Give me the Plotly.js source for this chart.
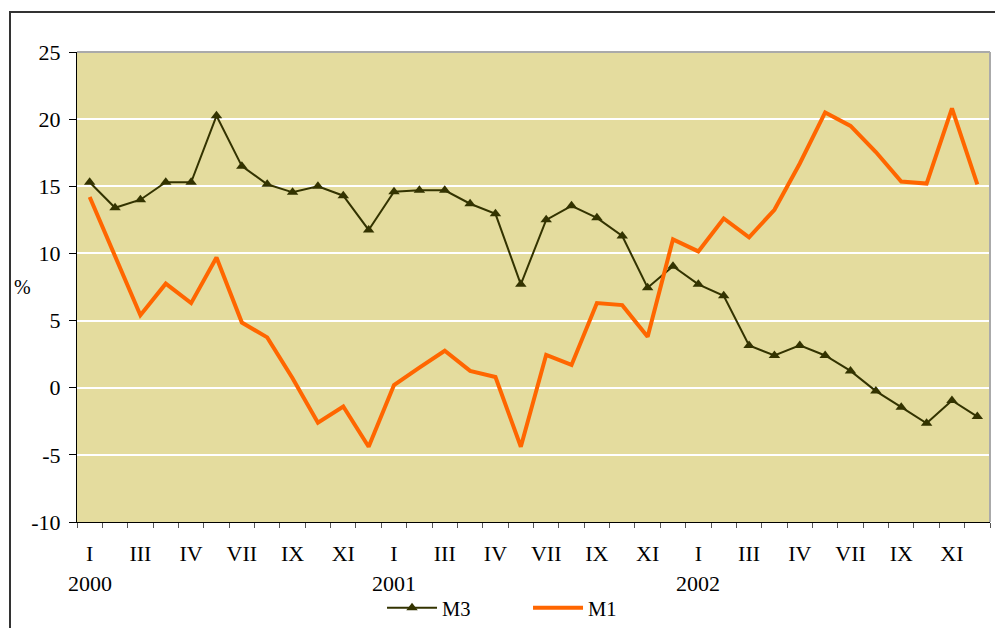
<!DOCTYPE html>
<html>
<head>
<meta charset="utf-8">
<script src="https://cdn.plot.ly/plotly-3.0.1.min.js"></script>
<style>
  body { margin: 0; background: #fff; }
  #chart { position: absolute; left: 0; top: 0; width: 995px; height: 628px; }
  #frame { position: absolute; left: 9px; top: 11px; width: 1000px; height: 700px;
           border-left: 2px solid #333; border-top: 2px solid #333; pointer-events: none; }
</style>
</head>
<body>
<div id="chart"></div>
<div id="frame"></div>
<script>
(function() {
  'use strict';

  // months, Jan 2000 .. Dec 2002
  var months = [];
  for (var i = 0; i < 36; i++) months.push(i);

  // tick labels as printed on the original (every second month)
  var tickPos = [0, 2, 4, 6, 8, 10, 12, 14, 16, 18, 20, 22, 24, 26, 28, 30, 32, 34];
  var tickText = ['I', 'III', 'IV', 'VII', 'IX', 'XI',
                  'I', 'III', 'IV', 'VII', 'IX', 'XI',
                  'I', 'III', 'IV', 'VII', 'IX', 'XI'];

  var yTickVals = [-10, -5, 0, 5, 10, 15, 20, 25];
  var yTickText = ['-10', '-5', '0', '5', '10', '15', '20', '25'];

  var years = ['2000', '2001', '2002'];
  var yearPos = [0, 12, 24];

  var m3 = [15.3, 13.4, 14.0, 15.3, 15.3, 20.25, 16.5, 15.15, 14.55, 15.0, 14.3, 11.75,
            14.6, 14.7, 14.7, 13.7, 12.95, 7.7, 12.5, 13.55, 12.65, 11.3, 7.45, 9.05,
            7.7, 6.85, 3.15, 2.4, 3.15, 2.4, 1.25, -0.25, -1.45, -2.65, -0.95, -2.15];

  var m1 = [14.2, 9.8, 5.4, 7.75, 6.3, 9.7, 4.85, 3.75, 0.7, -2.6, -1.4, -4.4,
            0.2, 1.5, 2.75, 1.25, 0.8, -4.4, 2.45, 1.7, 6.3, 6.15, 3.8, 11.05,
            10.15, 12.6, 11.2, 13.25, 16.7, 20.5, 19.5, 17.55, 15.35, 15.2, 20.8, 15.15];

  var serif = "'Liberation Serif', 'Times New Roman', serif";

  var data = [{
    type: 'scatter', mode: 'lines+markers', name: 'M3',
    x: months, y: m3,
    line: {color: '#333300', width: 2},
    marker: {symbol: 'triangle-up', size: 10, color: '#333300'}
  }, {
    type: 'scatter', mode: 'lines', name: 'M1',
    x: months, y: m1,
    line: {color: '#FF6600', width: 4}
  }];

  var annotations = years.map(function(y, k) {
    return {text: y, x: yearPos[k], xref: 'x', y: -0.13, yref: 'paper',
            showarrow: false, yanchor: 'middle', font: {family: serif, size: 22, color: '#000'}};
  });
  annotations.push({text: '%', x: -0.071, xref: 'paper', y: 0.5, yref: 'paper',
                    showarrow: false, font: {family: serif, size: 20, color: '#000'}});

  var layout = {
    width: 995, height: 628,
    margin: {l: 77, r: 5, t: 52, b: 106, autoexpand: false},
    paper_bgcolor: 'rgba(0,0,0,0)',
    plot_bgcolor: '#E4DC9E',
    font: {family: serif, color: '#000'},
    showlegend: true,
    legend: {orientation: 'h', x: 0.494, xanchor: 'center', y: -0.183, yanchor: 'middle',
             font: {family: serif, size: 20.5}, itemwidth: 50, entrywidth: 81,
             bgcolor: 'rgba(0,0,0,0)'},
    xaxis: {
      range: [-0.5, 35.5], tickmode: 'array', tickvals: tickPos, ticktext: tickText,
      ticks: '', showgrid: false, zeroline: false,
      showline: true, linecolor: '#000', linewidth: 1,
      tickfont: {family: serif, size: 22}, ticklabelstandoff: 12,
      minor: {ticks: 'outside', ticklen: 5, tickcolor: '#555', tick0: -0.5, dtick: 1, showgrid: false}
    },
    yaxis: {
      range: [-10, 25], tickmode: 'array', tickvals: yTickVals, ticktext: yTickText,
      ticks: 'outside', ticklen: 7, tickcolor: '#000', ticklabelstandoff: 4,
      showgrid: true, gridcolor: '#fff', gridwidth: 2, zeroline: false,
      showline: true, linecolor: '#000', linewidth: 1,
      tickfont: {family: serif, size: 22}
    },
    shapes: [
      {type: 'line', xref: 'paper', yref: 'paper', x0: 0, x1: 1, y0: 1, y1: 1,
       line: {color: '#aaa', width: 2}},
      {type: 'line', xref: 'paper', yref: 'paper', x0: 1, x1: 1, y0: 0, y1: 1,
       line: {color: '#aaa', width: 2}}
    ],
    annotations: annotations
  };

  Plotly.newPlot('chart', data, layout, {displayModeBar: false, staticPlot: true});
}());
</script>
</body>
</html>
